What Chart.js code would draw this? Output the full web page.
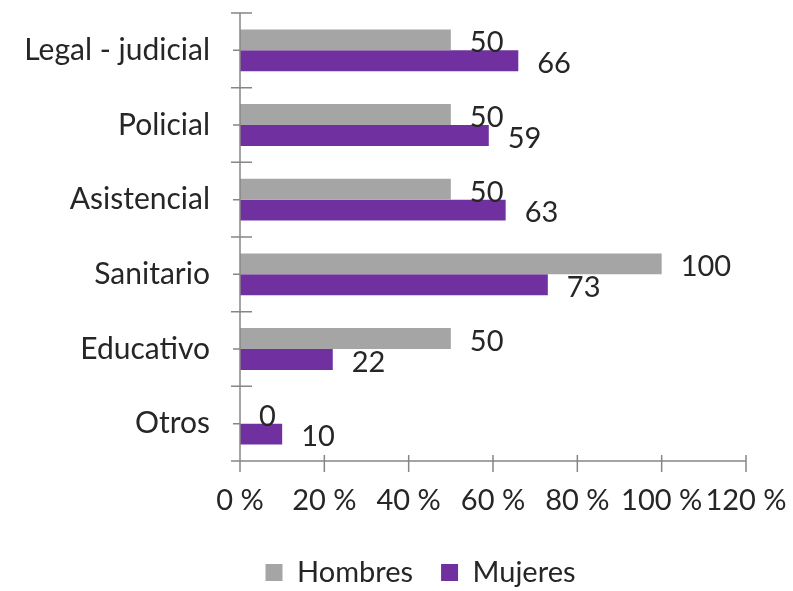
<!DOCTYPE html>
<html>
<head>
<meta charset="utf-8">
<script src="https://cdn.jsdelivr.net/npm/chart.js@4.4.1/dist/chart.umd.min.js"></script>
<style>
  html, body { margin: 0; padding: 0; background: #fff; }
  #wrap { width: 793px; height: 591px; }
</style>
</head>
<body>
<div id="wrap"><canvas id="chart" width="793" height="591"></canvas></div>
<script>
const categories = ['Legal - judicial', 'Policial', 'Asistencial', 'Sanitario', 'Educativo', 'Otros'];
const hombres = [50, 50, 50, 100, 50, 0];
const mujeres = [66, 59, 63, 73, 22, 10];
const xTicks = [0, 20, 40, 60, 80, 100, 120];

const FONT = 'Lato, "Noto Sans", sans-serif';
const TEXT = '#262626';
const AXIS = '#868686';

// value labels to the right of each bar
const barLabels = {
  id: 'barLabels',
  afterDatasetsDraw(chart) {
    const ctx = chart.ctx;
    ctx.save();
    ctx.font = '29px ' + FONT;
    ctx.fillStyle = TEXT;
    ctx.textBaseline = 'middle';
    ctx.textAlign = 'left';
    chart.data.datasets.forEach((ds, i) => {
      chart.getDatasetMeta(i).data.forEach((bar, j) => {
        ctx.fillText(String(ds.data[j]), bar.x + 19, bar.y + 3);
      });
    });
    ctx.restore();
  }
};

// axis lines + tick marks like the original (crossing ticks at category boundaries, short ones at centres)
const axisTicks = {
  id: 'axisTicks',
  afterDraw(chart) {
    const ctx = chart.ctx;
    const x = chart.scales.x, y = chart.scales.y;
    const a = chart.chartArea;
    ctx.save();
    ctx.strokeStyle = AXIS;
    ctx.lineWidth = 1.5;
    ctx.beginPath();
    ctx.moveTo(a.left, a.top);
    ctx.lineTo(a.left, a.bottom + 11);
    ctx.moveTo(a.left - 8, a.bottom);
    ctx.lineTo(a.right, a.bottom);
    xTicks.forEach(v => {
      const px = x.getPixelForValue(v);
      ctx.moveTo(px, a.bottom - 6);
      ctx.lineTo(px, a.bottom + 11);
    });
    for (let i = 0; i <= categories.length; i++) {
      const py = y.getPixelForValue(i - 0.5);
      ctx.moveTo(a.left - 9, py);
      ctx.lineTo(a.left + 12, py);
    }
    categories.forEach((c, i) => {
      const py = y.getPixelForValue(i);
      ctx.moveTo(a.left - 7, py);
      ctx.lineTo(a.left, py);
    });
    ctx.stroke();
    ctx.restore();
  }
};

// the original legend sits a bit right of centre
const legendShift = {
  id: 'legendShift',
  afterLayout(chart) {
    chart.legend.left += 24;
    chart.legend.right += 24;
  }
};

new Chart(document.getElementById('chart').getContext('2d'), {
  type: 'bar',
  data: {
    labels: categories,
    datasets: [
      { label: 'Hombres', data: hombres, backgroundColor: '#A5A5A5' },
      { label: 'Mujeres', data: mujeres, backgroundColor: '#7030A0' }
    ]
  },
  options: {
    indexAxis: 'y',
    responsive: false,
    animation: false,
    categoryPercentage: 0.56,
    barPercentage: 1,
    layout: { padding: { top: 13, right: 0, left: 0, bottom: 0 } },
    scales: {
      x: {
        min: 0,
        max: 120,
        afterBuildTicks(scale) { scale.ticks = xTicks.map(v => ({ value: v })); },
        afterFit(scale) {
          scale.height = 69;
          scale.paddingLeft = 0;
          scale.paddingRight = 47;
        },
        grid: { display: false, drawTicks: false },
        border: { display: false },
        ticks: {
          padding: 22,
          color: TEXT,
          font: { family: FONT, size: 29 },
          callback: v => v + ' %'
        }
      },
      y: {
        afterFit(scale) {
          scale.width = 240;
          scale.paddingTop = 0;
          scale.paddingBottom = 0;
        },
        grid: { display: false, drawTicks: false },
        border: { display: false },
        ticks: {
          padding: 30,
          color: TEXT,
          font: { family: FONT, size: 30 }
        }
      }
    },
    plugins: {
      legend: {
        position: 'bottom',
        maxHeight: 61,
        labels: {
          boxWidth: 17,
          boxHeight: 17,
          padding: 28,
          color: TEXT,
          font: { family: FONT, size: 29 }
        }
      },
      tooltip: { enabled: false }
    }
  },
  plugins: [barLabels, axisTicks, legendShift]
});
</script>
</body>
</html>
